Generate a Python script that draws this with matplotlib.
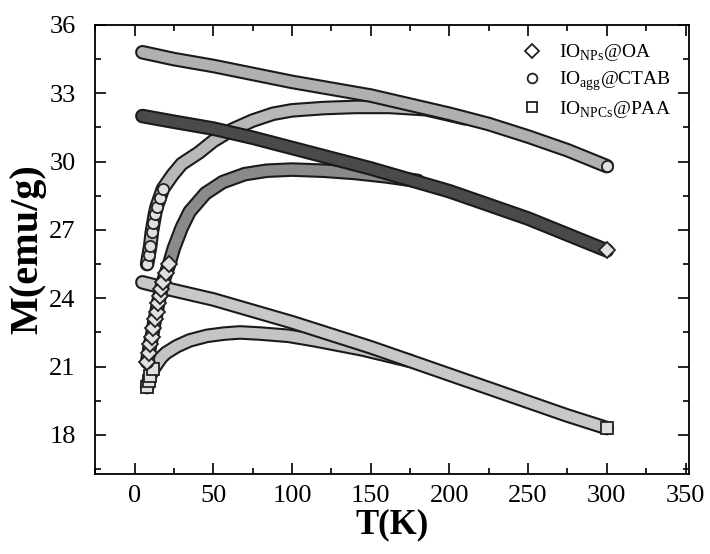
import matplotlib
matplotlib.use("Agg")
import matplotlib.pyplot as plt
import matplotlib.patheffects as pe
from matplotlib.lines import Line2D
from matplotlib.ticker import MultipleLocator

plt.rcParams["font.family"] = ["Liberation Serif", "DejaVu Serif"]
plt.rcParams["mathtext.fontset"] = "custom"
plt.rcParams["mathtext.rm"] = "Liberation Serif"

# readings from the picture (T in K, M in emu/g)
t_fc = [5, 25, 50, 75, 100, 125, 150, 175, 200, 225, 250, 275, 300]
m_ctab_fc = [34.8, 34.5, 34.2, 33.85, 33.5, 33.2, 32.9, 32.5, 32.1, 31.65, 31.1, 30.5, 29.8]
m_oa_fc = [32.0, 31.75, 31.45, 31.05, 30.6, 30.15, 29.7, 29.2, 28.7, 28.1, 27.5, 26.8, 26.1]
m_paa_fc = [24.7, 24.35, 23.95, 23.45, 22.95, 22.4, 21.85, 21.25, 20.65, 20.05, 19.45, 18.85, 18.3]

t_ctab_zfc = [8, 9, 10, 11, 12, 13, 14, 16, 18, 20, 24, 30, 41, 50, 62, 75, 88, 100,
              120, 140, 162, 185, 210]
m_ctab_zfc = [25.5, 25.9, 26.3, 26.9, 27.3, 27.7, 28.0, 28.4, 28.8, 29.0, 29.4, 29.9,
              30.4, 30.9, 31.4, 31.8, 32.1, 32.25, 32.35, 32.4, 32.4, 32.3, 31.9]

t_oa_zfc = [8, 9, 10, 11, 12, 13, 14, 15, 16, 17, 18, 20, 22, 25, 30, 35, 45, 56, 70,
            84, 100, 120, 140, 160, 180]
m_oa_zfc = [21.2, 21.6, 22.0, 22.3, 22.7, 23.1, 23.4, 23.8, 24.1, 24.4, 24.7, 25.1,
            25.5, 26.2, 27.1, 27.8, 28.6, 29.1, 29.45, 29.6, 29.65, 29.6, 29.5, 29.35, 29.15]

t_paa_zfc = [8, 9, 10, 12, 14, 17, 20, 27, 35, 46, 57, 67, 80, 98, 115, 130, 145, 160, 175]
m_paa_zfc = [20.1, 20.35, 20.6, 20.9, 21.1, 21.4, 21.6, 21.9, 22.15, 22.35, 22.45, 22.5,
             22.45, 22.35, 22.15, 21.95, 21.75, 21.5, 21.25]

labels = [r"IO$_{\mathrm{NPs}}$@OA", r"IO$_{\mathrm{agg}}$@CTAB", r"IO$_{\mathrm{NPCs}}$@PAA"]


def band(ax, t, m, fill, marker, first=0, end=True, z=2):
    ax.plot(t, m, color=fill, lw=7.5, solid_capstyle="round", zorder=z,
            path_effects=[pe.Stroke(linewidth=10.5, foreground="#1a1a1a"), pe.Normal()])
    idx = list(range(first)) + ([len(t) - 1] if end else [])
    ax.plot([t[i] for i in idx], [m[i] for i in idx], ls="none", marker=marker,
            ms=8, mfc="#e0e0e0", mec="#222", mew=1.3, zorder=z + 0.5)


fig = plt.figure(figsize=(7.1, 5.54), dpi=100)
ax = fig.add_axes([0.134, 0.145, 0.836, 0.81])

band(ax, t_paa_zfc, m_paa_zfc, "#c4c4c4", "s", first=4, end=False, z=2)
band(ax, t_fc, m_paa_fc, "#c8c8c8", "s", z=3)
band(ax, t_oa_zfc, m_oa_zfc, "#8a8a8a", "D", first=13, end=False, z=4)
band(ax, t_ctab_zfc, m_ctab_zfc, "#b8b8b8", "o", first=9, end=False, z=5)
band(ax, t_fc, m_oa_fc, "#4a4a4a", "D", z=6)
band(ax, t_fc, m_ctab_fc, "#b0b0b0", "o", z=7)

ax.set_xlim(-25, 352)
ax.set_ylim(16.3, 36)
ax.xaxis.set_major_locator(MultipleLocator(50))
ax.xaxis.set_minor_locator(MultipleLocator(25))
ax.yaxis.set_major_locator(MultipleLocator(3))
ax.yaxis.set_minor_locator(MultipleLocator(1.5))
ax.tick_params(which="both", direction="in", top=True, right=True, labelsize=19, width=1.2)
ax.tick_params(which="major", length=8)
ax.tick_params(which="minor", length=4)
ax.tick_params(axis="x", which="major", pad=8)
ax.tick_params(axis="y", which="major", pad=14)
for s in ax.spines.values():
    s.set_linewidth(1.3)

ax.set_xlabel("T(K)", fontsize=25, fontweight="bold", labelpad=1)
ax.set_ylabel("M(emu/g)", fontsize=29, fontweight="bold", labelpad=2)

handles = [Line2D([], [], ls="none", marker=mk, ms=7, mfc="white", mec="#222", mew=1.3)
           for mk in ["D", "o", "s"]]
ax.legend(handles, labels, loc="upper right", frameon=False, fontsize=14,
          handletextpad=0.4, labelspacing=0.3, borderaxespad=0.5)

fig.savefig("out.png", dpi=100)
